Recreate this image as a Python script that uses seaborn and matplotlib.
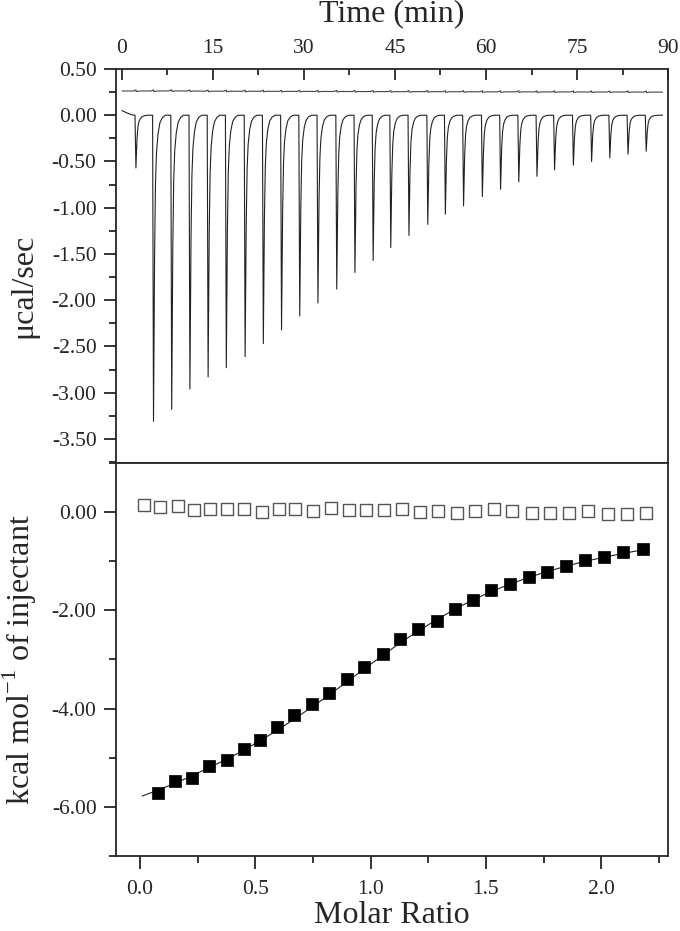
import numpy as np
import pandas as pd
import matplotlib
matplotlib.use('Agg')
import matplotlib.pyplot as plt
import seaborn as sns

# --- raw ITC thermogram (top panel) ---
# time of each peak minimum (min) and its depth (ucal/sec)
peak_time = [2.3, 5.2, 8.2, 11.2, 14.2, 17.2, 20.3, 23.3, 26.3, 29.3, 32.3, 35.4, 38.4, 41.4, 44.3,
             47.3, 50.4, 53.3, 56.3, 59.4, 62.4, 65.4, 68.4, 71.3, 74.4, 77.4, 80.4, 83.4, 86.4]
peak_depth = [-0.57, -3.31, -3.18, -2.96, -2.83, -2.73, -2.61, -2.47, -2.32, -2.17, -2.03, -1.88, -1.70,
              -1.57, -1.43, -1.30, -1.18, -1.07, -0.98, -0.88, -0.80, -0.72, -0.66, -0.59, -0.54, -0.50,
              -0.46, -0.42, -0.39]
# shape of one peak: offset from the minimum (min), fraction of depth
shape_dt = [-0.15, 0.0, 0.08, 0.18, 0.33, 0.5, 0.75, 1.05, 1.45, 1.95]
shape_frac = [0.0, 1.0, 0.75, 0.45, 0.22, 0.12, 0.06, 0.025, 0.008, 0.0]
# drift at the start of the run, and end of the trace
lead_time = [0.0, 0.5, 1.0, 1.6, 2.1]
lead_val = [0.05, 0.035, 0.02, 0.005, 0.0]
trace_end = 89.1
# upper reference trace level at each injection
ref_base = [0.262, 0.262, 0.263, 0.262, 0.260, 0.260, 0.259, 0.259, 0.258, 0.258, 0.257, 0.257, 0.256,
            0.256, 0.255, 0.255, 0.255, 0.254, 0.254, 0.253, 0.253, 0.253, 0.252, 0.252, 0.252, 0.251,
            0.251, 0.251, 0.250]
ref_dt = [-0.4, 0.0, 0.05, 0.6]
ref_bump = [0.0, 0.012, -0.006, 0.0]

# --- integrated heats (bottom panel) ---
filled_ratio = [0.078, 0.152, 0.225, 0.300, 0.377, 0.449, 0.522, 0.596, 0.670, 0.745, 0.821, 0.896, 0.973,
                1.052, 1.129, 1.206, 1.287, 1.364, 1.443, 1.521, 1.603, 1.685, 1.766, 1.849, 1.931, 2.012,
                2.095, 2.180]
filled_dh = [-5.72, -5.48, -5.42, -5.17, -5.05, -4.82, -4.63, -4.37, -4.14, -3.90, -3.68, -3.39, -3.16,
             -2.88, -2.59, -2.38, -2.21, -1.98, -1.78, -1.59, -1.47, -1.32, -1.22, -1.09, -0.98, -0.91,
             -0.81, -0.75]
blank_ratio = [0.016, 0.086, 0.163, 0.233, 0.305, 0.377, 0.451, 0.528, 0.602, 0.674, 0.750, 0.830, 0.906,
               0.978, 1.058, 1.136, 1.216, 1.293, 1.373, 1.454, 1.537, 1.614, 1.698, 1.778, 1.862, 1.944,
               2.028, 2.113, 2.196]
blank_dh = [0.15, 0.10, 0.13, 0.05, 0.06, 0.06, 0.06, 0.01, 0.07, 0.06, 0.03, 0.09, 0.05, 0.05, 0.05,
            0.07, 0.01, 0.03, -0.02, 0.03, 0.06, 0.03, -0.01, -0.01, -0.01, 0.03, -0.03, -0.04, -0.01]
fit_ratio = [0.01, 0.078, 0.152, 0.225, 0.300, 0.377, 0.449, 0.522, 0.596, 0.670, 0.745, 0.821, 0.896,
             0.973, 1.052, 1.129, 1.206, 1.287, 1.364, 1.443, 1.521, 1.603, 1.685, 1.766, 1.849, 1.931,
             2.012, 2.095, 2.180]
fit_dh = [-5.78, -5.66, -5.52, -5.37, -5.20, -5.03, -4.85, -4.65, -4.44, -4.21, -3.97, -3.72, -3.46,
          -3.19, -2.92, -2.66, -2.42, -2.19, -1.98, -1.79, -1.62, -1.47, -1.33, -1.21, -1.10, -1.00,
          -0.92, -0.84, -0.77]

# build the traces from the values above
t_raw, p_raw = list(lead_time), list(lead_val)
t_ref, p_ref = [0.0], [ref_base[0]]
for t, d, b in zip(peak_time, peak_depth, ref_base):
    t_raw += [t + dt for dt in shape_dt]
    p_raw += [d * f for f in shape_frac]
    t_ref += [t + dt for dt in ref_dt]
    p_ref += [b + db for db in ref_bump]
t_raw.append(trace_end)
p_raw.append(0.0)
t_ref.append(trace_end)
p_ref.append(ref_base[-1])
raw = pd.DataFrame({'time': t_raw, 'power': p_raw})
ref = pd.DataFrame({'time': t_ref, 'power': p_ref})

sns.set_style('ticks')
plt.rcParams['font.family'] = ['Liberation Serif', 'DejaVu Serif']
plt.rcParams['mathtext.fontset'] = 'custom'
plt.rcParams['mathtext.rm'] = 'Liberation Serif'
plt.rcParams['axes.unicode_minus'] = False
plt.rcParams['axes.linewidth'] = 1.3

tick_fs = 15.5
label_fs = 23

fig = plt.figure(figsize=(6.8, 9.31), dpi=100)
ax1 = fig.add_axes([0.1706, 0.5027, 0.8118, 0.4232])
ax2 = fig.add_axes([0.1706, 0.0806, 0.8118, 0.4221])

# top panel
sns.lineplot(data=ref, x='time', y='power', ax=ax1, color='#444444', lw=0.8, sort=False, estimator=None)
sns.lineplot(data=raw, x='time', y='power', ax=ax1, color='#222222', lw=0.8, sort=False, estimator=None)
ax1.set_xlim(-0.98, 90)
ax1.set_ylim(-3.76, 0.5)
ax1.set_xticks(np.arange(0, 91, 15))
ax1.set_xticks(np.arange(0, 91, 7.5), minor=True)
ax1.set_xticklabels([str(v) for v in range(0, 91, 15)])
ax1.set_yticks(np.arange(0.5, -3.51, -0.5))
ax1.set_yticks(np.arange(0.5, -3.76, -0.25), minor=True)
ax1.set_yticklabels(['%.2f' % v for v in np.arange(0.5, -3.51, -0.5)])
ax1.xaxis.tick_top()
ax1.xaxis.set_label_position('top')
ax1.tick_params(axis='x', which='both', direction='in', top=True, bottom=False,
                labeltop=True, labelbottom=False, labelsize=tick_fs, width=1.3, pad=8)
ax1.tick_params(axis='x', which='major', length=8)
ax1.tick_params(axis='x', which='minor', length=4)
ax1.tick_params(axis='y', which='both', direction='out', labelsize=tick_fs, width=1.3, pad=5)
ax1.tick_params(axis='y', which='major', length=9)
ax1.tick_params(axis='y', which='minor', length=5)
ax1.set_xlabel('Time (min)', fontsize=label_fs, labelpad=13)
ax1.set_ylabel('\u03bccal/sec', fontsize=label_fs)
ax1.yaxis.set_label_coords(-0.14, 0.45)
for s in ax1.spines.values():
    s.set_visible(True)
    s.set_linewidth(1.3)

# bottom panel
sns.lineplot(x=fit_ratio, y=fit_dh, ax=ax2, color='#222222', lw=0.8, sort=False, estimator=None)
sns.scatterplot(x=blank_ratio, y=blank_dh, ax=ax2, marker='s', s=75, facecolor='white',
                edgecolor='#555555', linewidth=1.0, zorder=3)
sns.scatterplot(x=filled_ratio, y=filled_dh, ax=ax2, marker='s', s=75, color='black',
                edgecolor='black', linewidth=0.5, zorder=4)
ax2.set_xlim(-0.104, 2.29)
ax2.set_ylim(-7.0, 1.0)
ax2.set_xticks(np.arange(0, 2.01, 0.5))
ax2.set_xticks(np.arange(0, 2.26, 0.25), minor=True)
ax2.set_xticklabels(['%.1f' % v for v in np.arange(0, 2.01, 0.5)])
ax2.set_yticks([0, -2, -4, -6])
ax2.set_yticks([1, 0, -1, -2, -3, -4, -5, -6, -7], minor=True)
ax2.set_yticklabels(['0.00', '-2.00', '-4.00', '-6.00'])
ax2.tick_params(axis='both', which='both', direction='out', labelsize=tick_fs, width=1.3)
ax2.tick_params(axis='both', which='major', length=9)
ax2.tick_params(axis='both', which='minor', length=5)
ax2.tick_params(axis='x', pad=8)
ax2.tick_params(axis='y', pad=5)
ax2.set_xlabel('Molar Ratio', fontsize=label_fs, labelpad=2)
ax2.set_ylabel('kcal mol$^{-1}$ of injectant', fontsize=label_fs)
ax2.yaxis.set_label_coords(-0.14, 0.5)
for s in ax2.spines.values():
    s.set_visible(True)
    s.set_linewidth(1.3)

fig.savefig('out.png', dpi=100)
